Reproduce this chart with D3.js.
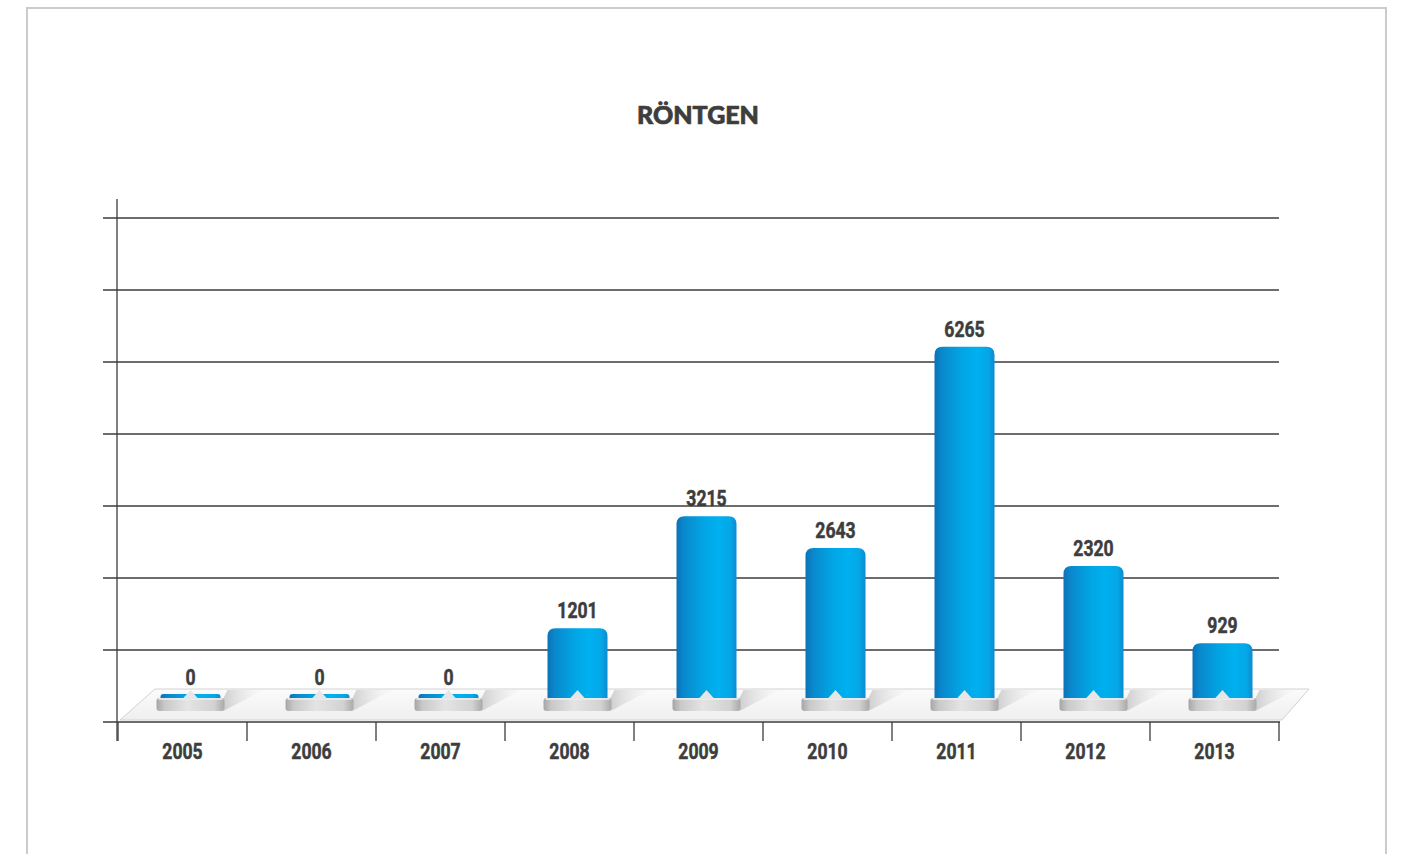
<!DOCTYPE html>
<html>
<head>
<meta charset="utf-8">
<script src="https://cdn.jsdelivr.net/npm/d3@7/dist/d3.min.js"></script>
<style>
  html, body { margin: 0; padding: 0; background: #ffffff; }
  svg { display: block; }
</style>
</head>
<body>
<script>
// Röntgen counts per year
const years = ["2005", "2006", "2007", "2008", "2009", "2010", "2011", "2012", "2013"];
const values = [0, 0, 0, 1201, 3215, 2643, 6265, 2320, 929];
// Horizontal gridlines on the back wall (levels above the floor)
const gridLevels = [0, 1, 2, 3, 4, 5, 6, 7];
const chartTitle = "RÖNTGEN";

const W = 1405, H = 854;
const svg = d3.select("body").append("svg").attr("width", W).attr("height", H);
const defs = svg.append("defs");

// Outer frame
svg.append("rect")
  .attr("x", 27).attr("y", 8).attr("width", 1359).attr("height", 900)
  .attr("fill", "#ffffff").attr("stroke", "#cbcbcb").attr("stroke-width", 2);

// Title
svg.append("text")
  .attr("x", 698).attr("y", 124)
  .attr("text-anchor", "middle")
  .attr("font-family", "Lato, 'Open Sans', sans-serif")
  .attr("font-weight", 900)
  .attr("font-size", 25)
  .attr("fill", "#3d3d3d")
  .attr("stroke", "#3d3d3d").attr("stroke-width", 0.7)
  .text(chartTitle);

// Scales
const x = d3.scaleBand().domain(years).range([118, 1279]).padding(0);
const y = d3.scaleLinear().domain([0, 7000]).range([695, 306]);
const yGrid = d3.scaleLinear().domain([0, 7]).range([722, 218]);
const barOffset = 8;             // bars sit slightly right of the category centre (3D depth)
const barW = 60, pedW = 68;
const barBottom = 703, pedTop = 698, pedH = 13;
const cx = d => x(d) + x.bandwidth() / 2;

// Gradients
const gBar = defs.append("linearGradient").attr("id", "barGrad").attr("x1", 0).attr("x2", 1).attr("y1", 0).attr("y2", 0);
[[0, "#0a72b6"], [0.12, "#0a88cc"], [0.45, "#01a5e4"], [0.7, "#00b0ef"], [0.9, "#05a6e6"], [1, "#0b8cd0"]]
  .forEach(([o, c]) => gBar.append("stop").attr("offset", o).attr("stop-color", c));

const gPed = defs.append("linearGradient").attr("id", "pedGrad").attr("x1", 0).attr("x2", 1).attr("y1", 0).attr("y2", 0);
[[0, "#a6a6a6"], [0.12, "#c9c9c9"], [0.45, "#e4e4e4"], [0.85, "#d2d2d2"], [1, "#a9a9a9"]]
  .forEach(([o, c]) => gPed.append("stop").attr("offset", o).attr("stop-color", c));

const gFloor = defs.append("linearGradient").attr("id", "floorGrad").attr("x1", 0).attr("x2", 0).attr("y1", 0).attr("y2", 1);
[[0, "#fbfbfb"], [1, "#efefef"]]
  .forEach(([o, c]) => gFloor.append("stop").attr("offset", o).attr("stop-color", c));

const gShadow = defs.append("linearGradient").attr("id", "shadowGrad").attr("x1", 0).attr("x2", 1).attr("y1", 0).attr("y2", 0);
[[0, "#cfcfcf", 1], [1, "#f2f2f2", 0.2]]
  .forEach(([o, c, a]) => gShadow.append("stop").attr("offset", o).attr("stop-color", c).attr("stop-opacity", a));

// Gridlines and left-axis ticks
const axisColor = "#3c3c3c";
svg.append("g").selectAll("line").data(gridLevels.filter(d => d > 0)).join("line")
  .attr("x1", 103).attr("x2", 1279)
  .attr("y1", d => yGrid(d)).attr("y2", d => yGrid(d))
  .attr("stroke", axisColor).attr("stroke-width", 1.3);

// Floor
svg.append("polygon")
  .attr("points", [[120, 720], [1282, 720], [1309, 689], [155, 689]].map(p => p.join(",")).join(" "))
  .attr("fill", "url(#floorGrad)").attr("stroke", "#d2d2d2").attr("stroke-width", 1);

// Value axis line and zero tick
svg.append("line").attr("x1", 117).attr("x2", 117).attr("y1", 199).attr("y2", 741)
  .attr("stroke", axisColor).attr("stroke-width", 1.3);
svg.append("line").attr("x1", 103).attr("x2", 1280).attr("y1", yGrid(0)).attr("y2", yGrid(0))
  .attr("stroke", axisColor).attr("stroke-width", 1.3);

// Category ticks
const catTicks = years.map(d => x(d)).concat([x.range()[1]]);
svg.append("g").selectAll("line").data(catTicks).join("line")
  .attr("x1", d => d).attr("x2", d => d)
  .attr("y1", yGrid(0)).attr("y2", 741)
  .attr("stroke", axisColor).attr("stroke-width", 1.3);

// Bars
const data = years.map((yr, i) => ({ year: yr, value: values[i] }));
const bars = svg.append("g").selectAll("g").data(data).join("g");

function barPath(x0, w, yTop, yBot) {
  const r = Math.min(8, (yBot - yTop) / 3);
  return `M${x0},${yBot} V${yTop + r} Q${x0},${yTop} ${x0 + r},${yTop} H${x0 + w - r} Q${x0 + w},${yTop} ${x0 + w},${yTop + r} V${yBot} Z`;
}

// shadow wedge cast on the floor to the right of each pedestal
bars.append("polygon")
  .attr("points", d => {
    const r = cx(d.year) + barOffset + pedW / 2 - 1;
    return [[r, pedTop], [r, pedTop + pedH], [r + 40, 690], [r + 4, 690]].map(p => p.join(",")).join(" ");
  })
  .attr("fill", "url(#shadowGrad)");

bars.append("path")
  .attr("d", d => barPath(cx(d.year) + barOffset - barW / 2, barW, y(d.value) - (d.value === 0 ? 1 : 0), barBottom))
  .attr("fill", "url(#barGrad)");

// pedestal
bars.append("rect")
  .attr("x", d => cx(d.year) + barOffset - pedW / 2)
  .attr("y", pedTop).attr("width", pedW).attr("height", pedH)
  .attr("rx", 3)
  .attr("fill", "url(#pedGrad)");
bars.append("rect")
  .attr("x", d => cx(d.year) + barOffset - pedW / 2 + 2)
  .attr("y", pedTop).attr("width", pedW - 4).attr("height", 2)
  .attr("fill", "#ededed").attr("opacity", 0.8);

// notch
bars.append("polygon")
  .attr("points", d => {
    const c = cx(d.year) + barOffset;
    return [[c - 8, pedTop + 1], [c, 690], [c + 8, pedTop + 1]].map(p => p.join(",")).join(" ");
  })
  .attr("fill", "#e6e6e6");

// Label text style
const labelFont = "Roboto, 'DejaVu Sans', sans-serif";
function label(sel, tx, ty, txt) {
  sel.append("text")
    .attr("transform", `translate(${tx},${ty}) scale(0.8,1)`)
    .attr("text-anchor", "middle")
    .attr("font-family", labelFont)
    .attr("font-weight", 700)
    .attr("font-size", 22)
    .attr("fill", "#3d3d3d")
    .attr("stroke", "#3d3d3d").attr("stroke-width", 0.5)
    .text(txt);
}

// Value labels
bars.each(function (d) {
  label(d3.select(this), cx(d.year) + barOffset, y(d.value) - 10, d.value);
});

// Year labels
const yearG = svg.append("g");
years.forEach(yr => label(yearG, cx(yr), 759, yr));
</script>
</body>
</html>
